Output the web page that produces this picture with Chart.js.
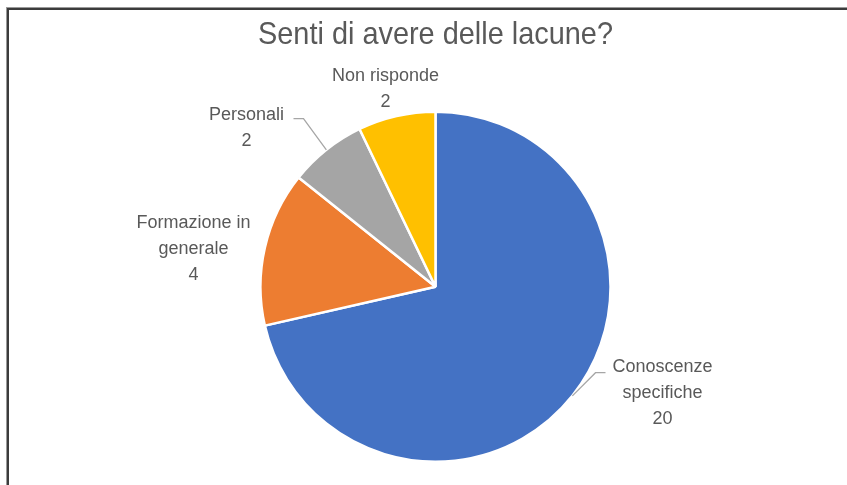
<!DOCTYPE html>
<html>
<head>
<meta charset="utf-8">
<script src="https://cdn.jsdelivr.net/npm/chart.js@4/dist/chart.umd.min.js"></script>
<style>
  html, body { margin: 0; padding: 0; background: #fff; }
  #wrap { position: relative; width: 847px; height: 485px; overflow: hidden; }
  #frame {
    position: absolute; left: 7px; top: 8px; right: -10px; bottom: -10px;
    border-top: 2px solid #3c3c3c; border-left: 2px solid #3c3c3c;
    box-shadow: -1px -1px 0 #9a9a9a;
    pointer-events: none;
  }
</style>
</head>
<body>
<div id="wrap">
  <canvas id="pie_chart" width="847" height="485"></canvas>
  <div id="frame"></div>
</div>
<script>
const categories = [['Conoscenze', 'specifiche'], ['Formazione in', 'generale'], ['Personali'], ['Non risponde']];
const answers = [20, 4, 2, 2];
const sliceColors = ['#4472C4', '#ED7D31', '#A5A5A5', '#FFC000'];

// where each label block sits, relative to the pie centre (px)
const labelPlacement = [
  { dx: 227, dy: 106, leader: { ex: 160, ey: 86, len: 10 } },
  { dx: -242, dy: -38 },
  { dx: -189, dy: -159, leader: { ex: -132, ey: -168, len: -10 } },
  { dx: -50, dy: -198 }
];

const textGray = '#595959';
const labelFont = '18px "Liberation Sans", Arial, sans-serif';
const lineGap = 26;

const sliceLabels = {
  id: 'sliceLabels',
  afterDatasetsDraw(chart) {
    const ctx = chart.ctx;
    const arcs = chart.getDatasetMeta(0).data;
    ctx.save();
    ctx.font = labelFont;
    ctx.fillStyle = textGray;
    ctx.textAlign = 'center';
    ctx.textBaseline = 'middle';
    arcs.forEach((arc, i) => {
      const p = labelPlacement[i];
      const cx = arc.x, cy = arc.y;
      const lines = [...categories[i], String(answers[i])];
      const top = cy + p.dy - (lines.length - 1) * lineGap / 2;
      lines.forEach((t, k) => ctx.fillText(t, cx + p.dx, top + k * lineGap));

      if (p.leader) {
        const mid = (arc.startAngle + arc.endAngle) / 2;
        const sx = cx + Math.cos(mid) * arc.outerRadius;
        const sy = cy + Math.sin(mid) * arc.outerRadius;
        ctx.beginPath();
        ctx.strokeStyle = '#a6a6a6';
        ctx.lineWidth = 1.3;
        ctx.moveTo(sx, sy);
        ctx.lineTo(cx + p.leader.ex, cy + p.leader.ey);
        ctx.lineTo(cx + p.leader.ex + p.leader.len, cy + p.leader.ey);
        ctx.stroke();
      }
    });
    ctx.restore();
  }
};

const config = {
  type: 'pie',
  data: {
    labels: categories,
    datasets: [{
      data: answers,
      backgroundColor: sliceColors,
      borderColor: '#ffffff',
      borderWidth: 2.5
    }]
  },
  options: {
    responsive: false,
    animation: false,
    layout: {
      padding: { top: 0, bottom: 22, left: 258, right: 234 }
    },
    plugins: {
      legend: { display: false },
      tooltip: { enabled: false },
      title: {
        display: true,
        text: 'Senti di avere delle lacune?',
        color: textGray,
        font: { family: '"Liberation Sans", Arial, sans-serif', size: 32, weight: 'normal' },
        padding: { top: 16, bottom: 56 }
      }
    }
  },
  plugins: [sliceLabels]
};

new Chart(document.getElementById('pie_chart').getContext('2d'), config);
</script>
</body>
</html>
